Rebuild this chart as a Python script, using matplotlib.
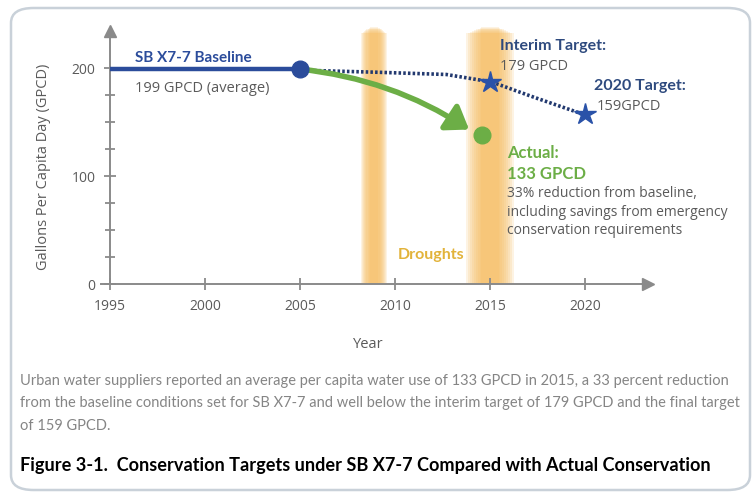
import matplotlib
matplotlib.use('Agg')
import matplotlib.pyplot as plt
from matplotlib.patches import FancyArrowPatch, FancyBboxPatch

# values
BASELINE_YEARS = [1995, 2005]
BASELINE_GPCD = [199, 199]
TARGET_YEARS = [2015, 2020]
TARGET_GPCD = [187, 157]          # star positions as drawn (labels say 179 / 159)
TARGET_PATH_YEARS = [2005, 2009.2, 2012.7, 2015.1, 2017.3, 2020.1]
TARGET_PATH_GPCD = [198, 196, 194, 187, 173, 156]
ACTUAL_YEAR = 2014.6
ACTUAL_GPCD = 138
ARROW_END = (2013.9, 143)
DROUGHT_CENTERS = [2008.9, 2015.0]
DROUGHT_WIDTHS = [1.4, 2.5]
DROUGHT_CORES = [0.45, 0.9]
X_TICKS = [1995, 2000, 2005, 2010, 2015, 2020]
Y_TICKS = [0, 100, 200]
Y_MINOR = [25, 50, 75, 125, 150, 175]

BLUE = '#2B4C9B'
NAVY = '#22396F'
GREEN = '#6CAE46'
GRAY = '#8A8A8A'
TXT_GRAY = '#5A5A5A'
ORANGE = '#F7BD5C'
GOLD = '#E2B33A'

W, H = 755, 495
fig = plt.figure(figsize=(W / 100, H / 100), dpi=100)
fig.patch.set_facecolor('white')


def fx(px):
    return px / W


def fy(py):
    return 1 - py / H


# rounded frame round the whole figure
frame = FancyBboxPatch((fx(11), fy(490)), fx(739), (482) / H,
                       boxstyle='round,pad=0,rounding_size=0.03',
                       transform=fig.transFigure, facecolor='none',
                       edgecolor='#C9D1D9', lw=1.8)
fig.patches.append(frame)

ax = fig.add_axes([72 / W, (H - 294.8) / H, 608 / W, 275.4 / H])
ax.set_xlim(1993, 2025)
ax.set_ylim(-10, 245)
ax.set_facecolor('none')

# drought bands, soft edged
n = 9
for c, w, core in zip(DROUGHT_CENTERS, DROUGHT_WIDTHS, DROUGHT_CORES):
    for k in range(n):
        ww = w - (w - core) * k / (n - 1)
        top = 248 - 6 * (n - 1 - k) / (n - 1)
        ax.axvspan(c - ww / 2, c + ww / 2, ymin=10 / 255, ymax=(top) / 255,
                   color=ORANGE, alpha=0.17, lw=0, zorder=1)

# axes drawn as arrows
for s in ['top', 'right']:
    ax.spines[s].set_visible(False)
ax.spines['left'].set_position(('data', 1995))
ax.spines['bottom'].set_position(('data', 0))
ax.spines['left'].set_bounds(0, 232)
ax.spines['bottom'].set_bounds(1994.5, 2023)
for s in ['left', 'bottom']:
    ax.spines[s].set_color(GRAY)
    ax.spines[s].set_linewidth(1.4)
ax.plot([1995], [234], marker='^', color=GRAY, ms=8, clip_on=False, zorder=3)
ax.plot([2023.3], [0], marker='>', color=GRAY, ms=8, clip_on=False, zorder=3)

ax.set_xticks(X_TICKS)
ax.set_xticklabels([str(t) for t in X_TICKS])
ax.set_yticks(Y_TICKS)
ax.set_yticklabels([str(t) for t in Y_TICKS])
ax.set_yticks(Y_MINOR, minor=True)
ax.tick_params(axis='both', which='major', direction='inout', length=9,
               width=1.3, color=GRAY, labelcolor=TXT_GRAY, labelsize=10, pad=6)
ax.tick_params(axis='y', which='minor', direction='inout', length=7,
               width=1.3, color=GRAY)
for lab in ax.get_xticklabels() + ax.get_yticklabels():
    lab.set_fontfamily('Open Sans')

# baseline and targets
ax.plot(BASELINE_YEARS, BASELINE_GPCD, color=BLUE, lw=3.2, solid_capstyle='butt', zorder=4)
ax.plot(TARGET_PATH_YEARS, TARGET_PATH_GPCD, color=NAVY, lw=2.6,
        ls=(0, (0.7, 0.6)), zorder=4)
ax.plot(TARGET_YEARS, TARGET_GPCD, ls='none', marker='*', ms=16, color='#2A52A8', zorder=6)

# actual conservation arrow
arrow = FancyArrowPatch((BASELINE_YEARS[-1], BASELINE_GPCD[-1]), ARROW_END,
                        connectionstyle='arc3,rad=-0.12',
                        arrowstyle='-|>,head_length=1.0,head_width=0.7',
                        color=GREEN, lw=4, mutation_scale=13, zorder=5,
                        shrinkA=0, shrinkB=0)
ax.add_patch(arrow)
ax.plot([ACTUAL_YEAR], [ACTUAL_GPCD], 'o', color=GREEN, ms=12, zorder=6)
ax.plot([BASELINE_YEARS[-1]], [BASELINE_GPCD[-1]], 'o', color=BLUE, ms=12, zorder=7)

# labels
bold = dict(family='Lato', weight='bold')
ax.text(1996.3, 209, 'SB X7-7 Baseline', color=BLUE, fontsize=11, va='center', **bold)
ax.text(1996.3, 181, '199 GPCD (average)', color=TXT_GRAY, fontsize=10.5,
        va='center', family='Open Sans')
ax.text(2015.5, 220, 'Interim Target:', color='#2E4A7E', fontsize=11.5, va='center', **bold)
ax.text(2015.55, 201, '179 GPCD', color=TXT_GRAY, fontsize=10.5, va='center', family='Open Sans')
ax.text(2020.5, 183, '2020 Target:', color='#2E4A7E', fontsize=11.5, va='center', **bold)
ax.text(2020.6, 164, '159GPCD', color=TXT_GRAY, fontsize=10.5, va='center', family='Open Sans')
ax.text(2015.9, 121, 'Actual:', color=GREEN, fontsize=12, va='center', **bold)
ax.text(2015.9, 102, '133 GPCD', color=GREEN, fontsize=12, va='center', **bold)
ax.text(2015.9, 91, '33% reduction from baseline,\nincluding savings from emergency\n'
        'conservation requirements', color=TXT_GRAY, fontsize=10, va='top',
        linespacing=1.35, family='Open Sans')
ax.text(2010.15, 27, 'Droughts', color=GOLD, fontsize=11.5, va='center', **bold)
ax.text(2008.6, -56, 'Year', color=TXT_GRAY, fontsize=10.5, ha='center', va='center',
        family='Open Sans', clip_on=False)

fig.text(fx(44), fy(167), 'Gallons Per Capita Day (GPCD)', rotation=90, color=TXT_GRAY,
         fontsize=10.5, ha='center', va='center', family='Open Sans')

caption_lines = ['Urban water suppliers reported an average per capita water use of 133 GPCD in 2015, '
                 'a 33 percent reduction',
                 'from the baseline conditions set for SB X7-7 and well below '
                 'the interim target of 179 GPCD and the final target',
                 'of 159 GPCD.']
for i, line in enumerate(caption_lines):
    fig.text(fx(20), fy(381 + 22.5 * i), line, color='#858585', fontsize=10.55,
             family='Lato', va='center')
fig.text(fx(20), fy(466), 'Figure 3-1.  Conservation Targets under SB X7-7 Compared with Actual Conservation',
         color='black', fontsize=13.1, family='Lato', weight='bold', va='center')

fig.savefig('out.png', dpi=100)
